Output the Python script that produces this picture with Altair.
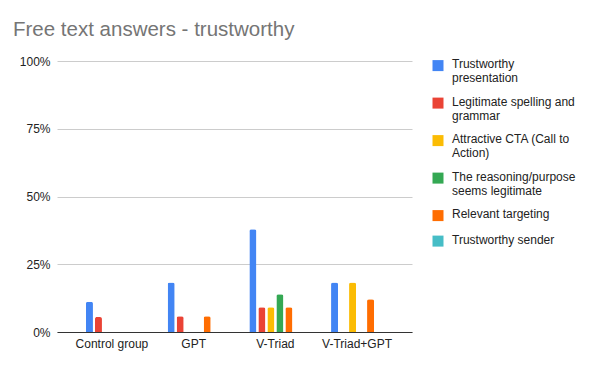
import altair as alt
import pandas as pd

groups = ["Control group", "GPT", "V-Triad", "V-Triad+GPT"]
series = [
    "Trustworthy presentation",
    "Legitimate spelling and grammar",
    "Attractive CTA (Call to Action)",
    "The reasoning/purpose seems legitimate",
    "Relevant targeting",
    "Trustworthy sender",
]
legend_lines = [
    ["Trustworthy", "presentation"],
    ["Legitimate spelling and", "grammar"],
    ["Attractive CTA (Call to", "Action)"],
    ["The reasoning/purpose", "seems legitimate"],
    ["Relevant targeting"],
    ["Trustworthy sender"],
]
colors = ["#4285F4", "#EA4335", "#FBBC04", "#34A853", "#FF6D01", "#46BDC6"]

# percent values per series, in order of groups
trustworthy_presentation = [11.2, 18.3, 37.9, 18.3]
legitimate_spelling = [5.5, 5.8, 9.1, 0.0]
attractive_cta = [0.0, 0.0, 9.1, 18.3]
reasoning_legitimate = [0.0, 0.0, 13.9, 0.0]
relevant_targeting = [0.0, 5.8, 9.1, 12.1]
trustworthy_sender = [0.0, 0.0, 0.0, 0.0]

all_values = [
    trustworthy_presentation,
    legitimate_spelling,
    attractive_cta,
    reasoning_legitimate,
    relevant_targeting,
    trustworthy_sender,
]

rows = []
for s, vals in zip(series, all_values):
    for g, v in zip(groups, vals):
        rows.append({"group": g, "series": s, "value": v / 100.0})
df = pd.DataFrame(rows)

# label expression for multi-line legend labels
parts = []
for s, lines in zip(series, legend_lines):
    arr = "[" + ",".join("'" + l + "'" for l in lines) + "]"
    parts.append(f"datum.label == '{s}' ? {arr} : ")
label_expr = "".join(parts) + "datum.label"

FONT = "Liberation Sans"

chart = (
    alt.Chart(df)
    .mark_bar(cornerRadiusTopLeft=2, cornerRadiusTopRight=2)
    .encode(
        x=alt.X(
            "group:N",
            sort=groups,
            scale=alt.Scale(paddingInner=0.339, paddingOuter=0.342),
            axis=alt.Axis(
                title=None,
                labelAngle=0,
                ticks=False,
                domainColor="#333333",
                labelPadding=6,
                labelFontSize=12,
                labelColor="#222222",
                labelFont=FONT,
                grid=False,
            ),
        ),
        xOffset=alt.XOffset(
            "series:N",
            sort=series,
            scale=alt.Scale(paddingInner=0.22, paddingOuter=0.11),
        ),
        y=alt.Y(
            "value:Q",
            scale=alt.Scale(domain=[0, 1]),
            axis=alt.Axis(
                title=None,
                format=".0%",
                values=[0, 0.25, 0.5, 0.75, 1],
                domain=False,
                ticks=False,
                labelPadding=7,
                labelFontSize=12,
                labelColor="#222222",
                labelFont=FONT,
                gridColor="#cccccc",
            ),
        ),
        color=alt.Color(
            "series:N",
            sort=series,
            scale=alt.Scale(domain=series, range=colors),
            legend=alt.Legend(
                title=None,
                orient="none",
                legendX=375,
                legendY=-8,
                symbolType="M-1,0.2H1V2.2H-1Z",
                symbolSize=121,
                symbolStrokeWidth=0,
                symbolOpacity=1,
                labelFontSize=12,
                labelFont=FONT,
                labelColor="#222222",
                labelOffset=8,
                labelLimit=250,
                labelBaseline="top",
                rowPadding=6.5,
                labelExpr=label_expr,
            ),
        ),
    )
    .properties(
        width=355,
        height=271,
        autosize="none",
        padding={"left": 49, "top": 53, "right": 170, "bottom": 25},
        title=alt.TitleParams(
            "Free text answers - trustworthy",
            anchor="start",
            frame="group",
            dx=-44,
            dy=23,
            offset=20,
            fontSize=20.5,
            font=FONT,
            fontWeight="normal",
            color="#757575",
            baseline="alphabetic",
        ),
    )
    .configure_view(stroke=None)
)

chart.save("out.html", embed_options={"renderer": "svg", "actions": False})
